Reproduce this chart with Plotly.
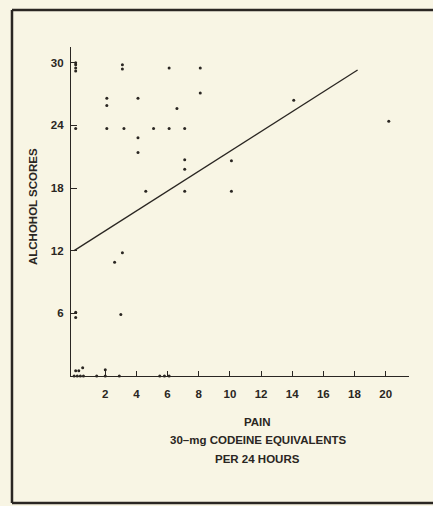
import plotly.graph_objects as go

# ---- data ----
pain_x = [0.1, 0.1, 0.1, 0.1, 3.1, 3.1, 6.1, 8.1,
          2.1, 2.1, 4.1, 8.1, 6.6,
          0.1, 2.1, 3.2, 5.1, 6.1, 7.1,
          4.1, 4.1, 7.1, 7.1, 4.6, 7.1,
          14.1, 10.1, 10.1, 20.2,
          2.6, 3.1, 3.0, 0.1, 0.1,
          0.1, 0.3, 0.55, 2.0,
          0.0, 0.2, 0.4, 0.6, 1.45, 2.0, 2.9, 5.5, 5.8, 6.1]
alcohol_y = [30.0, 29.8, 29.5, 29.2, 29.8, 29.4, 29.5, 29.5,
             26.6, 25.9, 26.6, 27.1, 25.6,
             23.7, 23.7, 23.7, 23.7, 23.7, 23.7,
             22.8, 21.4, 20.7, 19.8, 17.7, 17.7,
             26.4, 20.6, 17.7, 24.4,
             10.9, 11.8, 5.9, 6.1, 5.6,
             0.5, 0.5, 0.8, 0.6,
             0.0, 0.0, 0.0, 0.0, 0.0, 0.0, 0.0, 0.0, 0.0, 0.0]

fit_x = [0.0, 18.2]
fit_y = [12.0, 29.3]

x_ticks = [2, 4, 6, 8, 10, 12, 14, 16, 18, 20]
y_ticks = [6, 12, 18, 24, 30]

ink = "#2a2622"
bg = "#f8f5e4"
font_family = "Liberation Sans, Arial, sans-serif"

fig = go.Figure()
fig.add_trace(go.Scatter(x=fit_x, y=fit_y, mode="lines",
                         line=dict(color=ink, width=1.3),
                         hoverinfo="skip", showlegend=False))
fig.add_trace(go.Scatter(x=pain_x, y=alcohol_y, mode="markers",
                         marker=dict(color=ink, size=3),
                         cliponaxis=False, showlegend=False))

tick_font = dict(size=11.5, weight="bold", color=ink, family=font_family)

fig.update_layout(
    width=433, height=506,
    margin=dict(l=71, r=24, t=47, b=130),
    paper_bgcolor=bg, plot_bgcolor=bg,
    font=dict(family=font_family, color=ink, size=11),
    xaxis=dict(range=[-0.2, 21.5], tickvals=x_ticks,
               showgrid=False, zeroline=False,
               showline=True, linecolor=ink, linewidth=1.2,
               ticks="inside", ticklen=5, tickcolor=ink, tickwidth=1,
               ticklabelstandoff=7, tickfont=tick_font),
    yaxis=dict(range=[0, 31.5], tickvals=y_ticks,
               showgrid=False, zeroline=False,
               showline=True, linecolor=ink, linewidth=1.2,
               ticks="inside", ticklen=6, tickcolor=ink, tickwidth=1,
               ticklabelstandoff=4, tickfont=tick_font),
    shapes=[dict(type="line", xref="paper", yref="paper",
                 x0=-0.1746, x1=1.4, y0=1.1125, y1=1.1125,
                 line=dict(color=ink, width=2.5)),
            dict(type="line", xref="paper", yref="paper",
                 x0=-0.1746, x1=-0.1746, y0=-0.386, y1=1.1125,
                 line=dict(color=ink, width=2.5)),
            dict(type="line", xref="paper", yref="paper",
                 x0=-0.1746, x1=1.4, y0=-0.386, y1=-0.386,
                 line=dict(color=ink, width=2.5))],
)

bold = dict(size=11.5, weight="bold", color=ink, family=font_family)
fig.add_annotation(x=-0.77, xref="x", y=0, yref="paper", yshift=-16,
                   xanchor="center", yanchor="middle",
                   text="0", showarrow=False, font=bold)
fig.add_annotation(x=-0.112, xref="paper", y=0.514, yref="paper",
                   xanchor="center", yanchor="middle",
                   text="ALCHOHOL SCORES", textangle=-90, showarrow=False, font=bold)
for txt, yp in [("PAIN", -0.139), ("30–mg CODEINE EQUIVALENTS", -0.194), ("PER 24 HOURS", -0.251)]:
    fig.add_annotation(x=0.553, xref="paper", y=yp, yref="paper",
                       xanchor="center", yanchor="middle",
                       text=txt, showarrow=False, font=bold)

fig.write_html("out.html")
